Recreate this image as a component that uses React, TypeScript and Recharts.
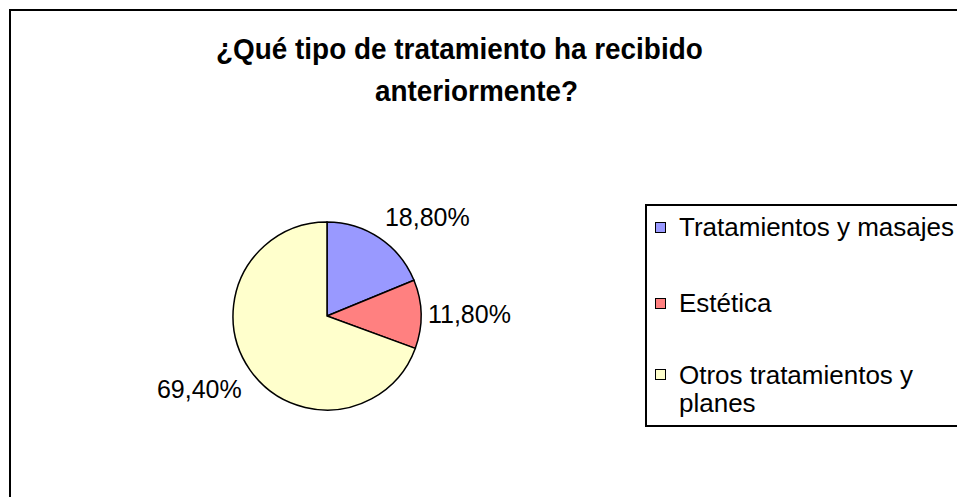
import React from "react";
import { PieChart, Pie, Cell, Legend } from "recharts";

const categories = ["Tratamientos y masajes", "Estética", "Otros tratamientos y planes"];
const shares = [18.8, 11.8, 69.4];
const colors = ["#9999FF", "#FF8080", "#FFFFCC"];
const titleLines = ["¿Qué tipo de tratamiento ha recibido", "anteriormente?"];

const data = categories.map((name, i) => ({ name, value: shares[i] }));

const FONT = '"Liberation Sans", Arial, sans-serif';
const RAD = Math.PI / 180;

const fmt = (v: number) => v.toFixed(2).replace(".", ",") + "%";

// Excel-like outside labels: nearest corner of the text sits just outside the slice
const renderLabel = (props: any) => {
  const { cx, cy, midAngle, outerRadius, value } = props;
  const r = outerRadius + 10;
  const c = Math.cos(midAngle * RAD);
  const s = Math.sin(midAngle * RAD);
  const x = cx + r * c;
  const y = cy - r * s;
  const anchor = c > 0.1 ? "start" : c < -0.1 ? "end" : "middle";
  const baseline = s > 0.3 ? y - 4 : s < -0.3 ? y + 22 : y + 9;
  return (
    <text x={c > 0.9 ? x - 3 : x} y={baseline} textAnchor={anchor} fill="#000" fontSize={25} fontFamily={FONT}>
      {fmt(value)}
    </text>
  );
};

const renderLegend = () => (
  <div
    style={{
      boxSizing: "border-box",
      width: 340,
      height: 223,
      border: "2px solid #000",
      background: "#fff",
      paddingTop: 8,
      fontFamily: FONT,
      fontSize: 26,
      lineHeight: "26px",
      color: "#000",
    }}
  >
    {categories.map((name, i) => (
      <div key={name} style={{ display: "flex", alignItems: "flex-start", marginTop: i === 0 ? 0 : i === 1 ? 50 : 45 }}>
        <span
          style={{
            boxSizing: "border-box",
            width: 11,
            height: 11,
            marginTop: 8,
            marginLeft: 8,
            marginRight: 13,
            border: "1.5px solid #000",
            background: colors[i],
            flex: "none",
          }}
        />
        <span style={{ width: 282, lineHeight: i === 2 ? "28px" : "26px" }}>{name}</span>
      </div>
    ))}
  </div>
);

export default function App() {
  return (
    <div style={{ position: "fixed", left: 0, top: 0, width: "100vw", height: "100vh", overflow: "hidden", background: "#fff" }}>
      <div
        style={{
          position: "absolute",
          left: 9,
          top: 9,
          width: 1000,
          height: 600,
          border: "2px solid #000",
          boxSizing: "border-box",
        }}
      />
      {titleLines.map((line, i) => (
        <div
          key={line}
          style={{
            position: "absolute",
            left: i === 0 ? 216 : 375,
            top: i === 0 ? 34 : 76,
            fontFamily: FONT,
            fontWeight: "bold",
            fontSize: 30,
            lineHeight: "30px",
            whiteSpace: "nowrap",
            color: "#000",
            transform: "scaleX(0.93)",
            transformOrigin: "left top",
          }}
        >
          {line}
        </div>
      ))}
      <div style={{ position: "absolute", left: 0, top: 0 }}>
        <PieChart width={957} height={497} margin={{ top: 0, right: 0, bottom: 0, left: 0 }}>
          <Pie
            data={data}
            dataKey="value"
            nameKey="name"
            cx={327}
            cy={316}
            outerRadius={94}
            startAngle={90}
            endAngle={-270}
            stroke="#000"
            strokeWidth={1.5}
            label={renderLabel}
            labelLine={false}
            isAnimationActive={false}
          >
            {data.map((d, i) => (
              <Cell key={d.name} fill={colors[i]} />
            ))}
          </Pie>
          <Legend
            content={renderLegend}
            wrapperStyle={{ position: "absolute", left: 645, top: 204, width: 340, height: 223 }}
          />
        </PieChart>
      </div>
    </div>
  );
}
